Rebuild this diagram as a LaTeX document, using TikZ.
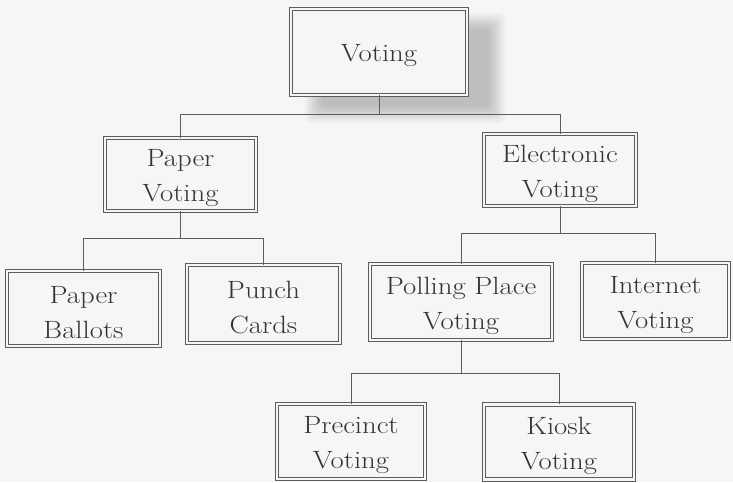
\documentclass[tikz,border=0pt]{standalone}
\usepackage{fontspec}
\setmainfont[FakeStretch=1.15]{Latin Modern Roman}
\definecolor{paper}{RGB}{246,246,245}
\definecolor{ink}{RGB}{52,52,52}
\definecolor{rule}{RGB}{92,92,92}
\begin{document}
\begin{tikzpicture}[x=1pt,y=-1pt,
  box/.style={draw=rule, line width=0.7pt, double=paper, double distance=2.8pt,
    fill=paper, inner sep=0pt},
  lbl/.style={align=center, text=ink, inner sep=0pt,
    font=\fontsize{25}{35}\selectfont},
  link/.style={draw=rule, line width=0.7pt}]
\fill[paper] (0,0) rectangle (733,482);
\useasboundingbox (0,0) rectangle (733,482);

% soft drop shadow under the root box, built from stacked translucent layers
\foreach \i in {0,...,9}{
  \fill[black, opacity=0.022, rounded corners=5pt]
    (305+1.8*\i,13+1.8*\i) rectangle (505-1.8*\i,123-1.8*\i);
}

% root
\node[box, minimum width=176, minimum height=86] (vote) at (379,52) {};
\node[lbl] (vote-t) at ([yshift=-4pt]vote.center) {Voting};

% second level
\node[box, minimum width=151, minimum height=73] (pv) at (180.5,174.5) {};
\node[lbl] (pv-t) at ([yshift=-4pt]pv.center) {Paper\\Voting};
\node[box, minimum width=152, minimum height=72] (ev) at (560,170) {};
\node[lbl] (ev-t) at ([yshift=-4pt]ev.center) {Electronic\\Voting};

% third level
\node[box, minimum width=153, minimum height=75] (pb) at (83.5,308.5) {};
\node[lbl] (pb-t) at ([yshift=-4pt]pb.center) {Paper\\Ballots};
\node[box, minimum width=153, minimum height=78] (pc) at (263.5,304) {};
\node[lbl] (pc-t) at ([yshift=-4pt]pc.center) {Punch\\Cards};
\node[box, minimum width=182, minimum height=76] (pp) at (461,302) {};
\node[lbl] (pp-t) at ([yshift=-4pt]pp.center) {Polling Place\\Voting};
\node[box, minimum width=147, minimum height=76] (iv) at (655.5,301) {};
\node[lbl] (iv-t) at ([yshift=-4pt]iv.center) {Internet\\Voting};

% fourth level
\node[box, minimum width=148, minimum height=75] (pr) at (351,441.5) {};
\node[lbl] (pr-t) at ([yshift=-4pt]pr.center) {Precinct\\Voting};
\node[box, minimum width=150, minimum height=75] (ki) at (559,442) {};
\node[lbl] (ki-t) at ([yshift=-4pt]ki.center) {Kiosk\\Voting};

% bus levels
\coordinate (b1) at (0,114);
\coordinate (b2) at (0,238);
\coordinate (b3) at (0,233);
\coordinate (b4) at (0,373);

% connectors
\draw[link] (vote.south) -- (vote.south |- b1);
\draw[link] (pv.north) |- (ev.north |- b1) -- (ev.north);

\draw[link] (pv.south) -- (pv.south |- b2);
\draw[link] (pb.north) |- (pc.north |- b2) -- (pc.north);

\draw[link] (ev.south) -- (ev.south |- b3);
\draw[link] (pp.north) |- (iv.north |- b3) -- (iv.north);

\draw[link] (pp.south) -- (pp.south |- b4);
\draw[link] (pr.north) |- (ki.north |- b4) -- (ki.north);
\end{tikzpicture}
\end{document}
